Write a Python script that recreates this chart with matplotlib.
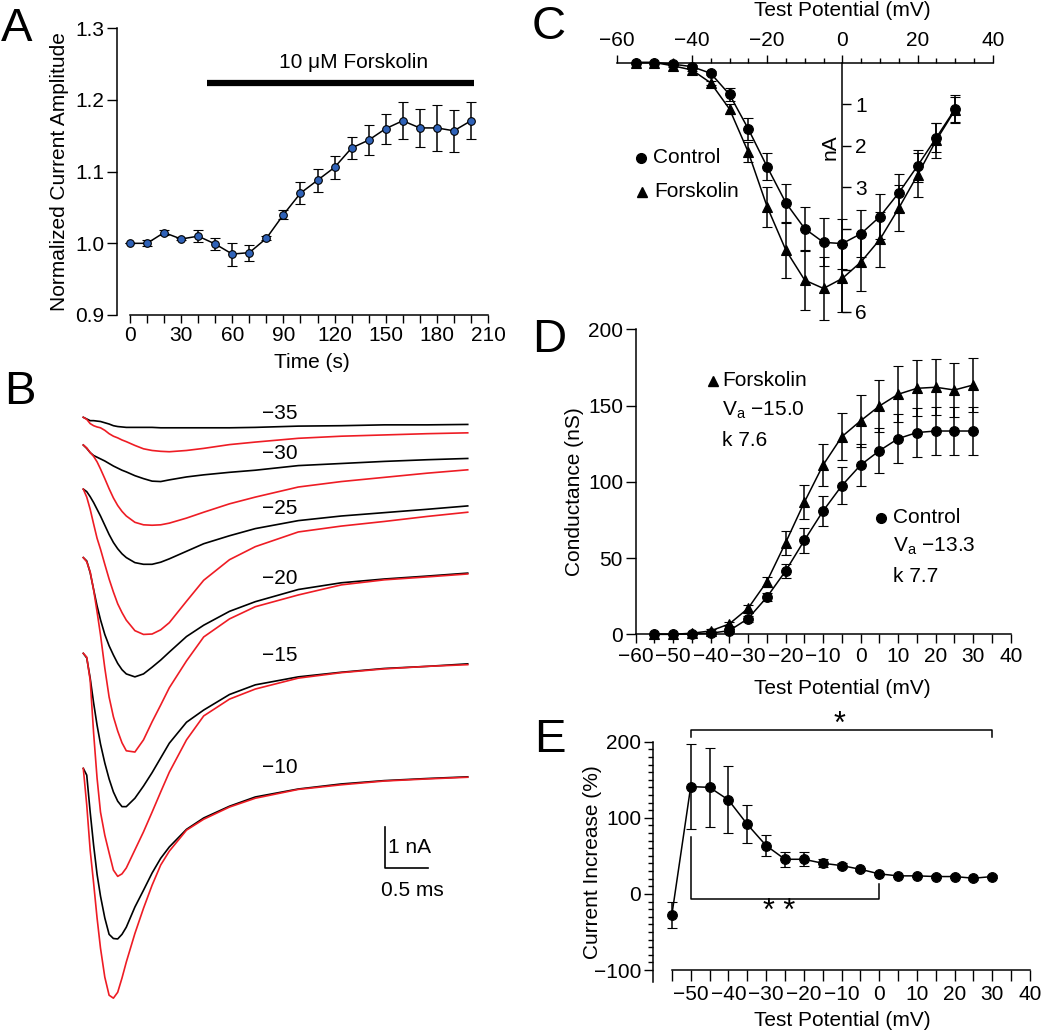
import matplotlib
matplotlib.use("Agg")
import matplotlib.pyplot as plt
from matplotlib.ticker import FixedLocator, MultipleLocator, FormatStrFormatter
from matplotlib.transforms import Affine2D

plt.rcParams['font.family'] = ['Liberation Sans', 'DejaVu Sans']
plt.rcParams['font.size'] = 15
plt.rcParams['axes.linewidth'] = 1.1
plt.rcParams['mathtext.default'] = 'regular'

# ---------------- data ----------------
# A: time course of normalized current amplitude
time_s = [0, 10, 20, 30, 40, 50, 60, 70, 80, 90, 100, 110, 120, 130, 140, 150, 160, 170, 180, 190, 200]
norm_amp = [1.000, 1.000, 1.015, 1.006, 1.010, 0.999, 0.985, 0.987, 1.007, 1.040, 1.070,
            1.088, 1.106, 1.133, 1.144, 1.160, 1.171, 1.161, 1.161, 1.157, 1.171]
norm_err = [0.000, 0.004, 0.004, 0.002, 0.008, 0.008, 0.016, 0.011, 0.003, 0.006, 0.015,
            0.016, 0.016, 0.016, 0.021, 0.021, 0.026, 0.026, 0.032, 0.029, 0.026]
fsk_start, fsk_end = 45, 202

# B: example current traces (nA, relative to holding) for each test step
trace_t = [0, 0.04, 0.08, 0.12, 0.16, 0.2, 0.25, 0.3, 0.35, 0.4, 0.45, 0.5, 0.6, 0.7,
           0.8, 0.9, 1.0, 1.2, 1.4, 1.7, 2.0, 2.5, 3.0, 3.5, 4.0, 4.47]
step_labels = ['\u221235', '\u221230', '\u221225', '\u221220', '\u221215', '\u221210']
ctrl_traces = [
    [0, -0.04, -0.08, -0.08, -0.09, -0.10, -0.13, -0.16, -0.20, -0.22, -0.23, -0.24, -0.24,
     -0.24, -0.24, -0.25, -0.25, -0.25, -0.25, -0.25, -0.24, -0.21, -0.20, -0.18, -0.18, -0.17],
    [0, -0.08, -0.18, -0.25, -0.29, -0.33, -0.38, -0.44, -0.50, -0.55, -0.60, -0.64, -0.73,
     -0.80, -0.86, -0.87, -0.83, -0.76, -0.71, -0.65, -0.60, -0.49, -0.44, -0.39, -0.35, -0.32],
    [0, -0.06, -0.18, -0.32, -0.48, -0.64, -0.86, -1.08, -1.27, -1.42, -1.54, -1.63, -1.75,
     -1.79, -1.79, -1.74, -1.66, -1.48, -1.30, -1.11, -0.94, -0.75, -0.64, -0.56, -0.48, -0.40],
    [0, -0.08, -0.36, -0.76, -1.15, -1.48, -1.83, -2.10, -2.32, -2.52, -2.67, -2.77, -2.84,
     -2.77, -2.61, -2.44, -2.25, -1.88, -1.61, -1.28, -1.05, -0.76, -0.60, -0.51, -0.44, -0.37],
    [0, -0.11, -0.59, -1.18, -1.71, -2.16, -2.61, -2.99, -3.30, -3.52, -3.65, -3.65, -3.45,
     -3.16, -2.84, -2.49, -2.14, -1.64, -1.35, -0.98, -0.75, -0.56, -0.45, -0.36, -0.31, -0.25],
    [0, -0.16, -1.04, -1.83, -2.52, -3.04, -3.56, -3.95, -4.05, -4.06, -3.95, -3.78, -3.30,
     -2.90, -2.49, -2.14, -1.87, -1.45, -1.18, -0.90, -0.68, -0.49, -0.37, -0.29, -0.24, -0.20],
]
fsk_traces = [
    [0, -0.05, -0.15, -0.20, -0.23, -0.25, -0.31, -0.39, -0.45, -0.49, -0.54, -0.58, -0.67,
     -0.75, -0.79, -0.81, -0.82, -0.79, -0.74, -0.65, -0.59, -0.50, -0.45, -0.42, -0.39, -0.37],
    [0, -0.07, -0.18, -0.27, -0.40, -0.57, -0.80, -1.04, -1.26, -1.44, -1.58, -1.69, -1.84,
     -1.90, -1.91, -1.90, -1.86, -1.74, -1.60, -1.40, -1.24, -1.00, -0.87, -0.77, -0.67, -0.59],
    [0, -0.19, -0.48, -0.83, -1.17, -1.43, -1.79, -2.14, -2.45, -2.73, -2.94, -3.12, -3.37,
     -3.46, -3.45, -3.35, -3.18, -2.67, -2.17, -1.68, -1.37, -1.02, -0.88, -0.77, -0.65, -0.55],
    [0, -0.10, -0.34, -0.77, -1.29, -1.84, -2.63, -3.32, -3.79, -4.13, -4.41, -4.60, -4.63,
     -4.34, -3.91, -3.51, -3.10, -2.46, -1.89, -1.46, -1.17, -0.89, -0.65, -0.53, -0.46, -0.39],
    [0, -0.09, -0.64, -1.90, -2.97, -3.78, -4.33, -4.75, -5.16, -5.31, -5.25, -5.11, -4.68,
     -4.25, -3.78, -3.30, -2.83, -2.06, -1.49, -1.09, -0.85, -0.59, -0.46, -0.37, -0.31, -0.27],
    [0, -0.87, -1.95, -2.73, -3.56, -4.28, -4.97, -5.40, -5.47, -5.33, -4.99, -4.61, -3.93,
     -3.33, -2.78, -2.30, -1.97, -1.47, -1.21, -0.92, -0.71, -0.50, -0.39, -0.30, -0.25, -0.21],
]

# C-E: test potentials
test_mv = [-55, -50, -45, -40, -35, -30, -25, -20, -15, -10, -5, 0, 5, 10, 15, 20, 25, 30]

# C: I-V (nA)
iv_ctrl = [0, 0, -0.04, -0.10, -0.26, -0.77, -1.60, -2.51, -3.38, -4.00, -4.33, -4.36,
           -4.12, -3.71, -3.14, -2.49, -1.81, -1.12]
iv_ctrl_err = [0, 0, 0.02, 0.03, 0.05, 0.15, 0.26, 0.33, 0.46, 0.53, 0.58, 0.60,
               0.56, 0.54, 0.45, 0.38, 0.35, 0.33]
iv_fsk = [0, 0, -0.08, -0.18, -0.49, -1.12, -2.16, -3.47, -4.52, -5.24, -5.44, -5.20,
          -4.80, -4.26, -3.51, -2.71, -1.87, -1.14]
iv_fsk_err = [0, 0, 0.02, 0.03, 0.05, 0.12, 0.24, 0.48, 0.66, 0.73, 0.75, 0.80,
              0.70, 0.66, 0.55, 0.52, 0.42, 0.30]

# D: conductance (nS)
g_ctrl = [0, 0, 0.2, 0.7, 2.4, 10.3, 24.3, 41.5, 61.6, 80.9, 97.5, 111.0,
          120.4, 128.3, 132.3, 133.3, 133.3, 133.3]
g_ctrl_err = [0, 0, 0, 0.5, 1, 2, 2.5, 4.4, 8, 10, 12.3, 13.9, 14.8, 16, 16, 16, 16, 16]
g_fsk = [0, 0, 0.7, 2.2, 6.8, 17.0, 34.5, 60.0, 86.6, 111.0, 129.6, 140.0,
         149.7, 157.4, 161.3, 162.0, 160.2, 163.5]
g_fsk_err = [0, 0, 0.3, 1, 1.5, 2.2, 3.3, 8, 11, 14, 15.3, 17, 17, 18.5, 18.3, 18.3, 17.5, 18]

# E: current increase (%)
incr = [-27.6, 141, 140, 123.5, 91.5, 63.5, 45.5, 45.5, 40.3, 37.2, 32.4, 26.3,
        23.7, 23.7, 22.8, 22.8, 20.6, 22.8]
incr_err = [17, 56, 52, 44, 25, 13.5, 10, 9, 5, 3, 2, 1.5, 1.5, 1.5, 1.5, 1.5, 2, 2]

# ---------------- figure ----------------
W, H = 1050, 1034
fig = plt.figure(figsize=(W / 100, H / 100), dpi=100)
pix = Affine2D().scale(1.0 / W, -1.0 / H).translate(0, 1) + fig.transFigure


def make_axes(xa, xb, ya, yb, xlim, ylim):
    # xa, xb, ya, yb: (data value, pixel) reference pairs
    sx = (xb[1] - xa[1]) / (xb[0] - xa[0])
    sy = (yb[1] - ya[1]) / (yb[0] - ya[0])
    left = xa[1] + (xlim[0] - xa[0]) * sx
    right = xa[1] + (xlim[1] - xa[0]) * sx
    top = ya[1] + (ylim[1] - ya[0]) * sy
    bottom = ya[1] + (ylim[0] - ya[0]) * sy
    ax = fig.add_axes([left / W, 1 - bottom / H, (right - left) / W, (bottom - top) / H])
    ax.set_xlim(xlim)
    ax.set_ylim(ylim)
    ax.patch.set_visible(False)
    return ax


def err_plot(ax, x, y, err, marker, ms, mfc='black', cap=3.5):
    c = ax.errorbar(x, y, yerr=err, fmt='-' + marker, color='black', lw=1.1, ms=ms,
                    mfc=mfc, mec='black', mew=0.8, ecolor='black', elinewidth=1.1,
                    capsize=cap, capthick=1.1, zorder=3)
    line, caps, bars = c.lines
    line.set_clip_on(False)
    for a in list(caps) + list(bars):
        a.set_clip_on(False)


def label_at(axis_obj, x, y):
    axis_obj.set_label_coords(x, y, transform=pix)
    axis_obj.label.set_va('center')
    axis_obj.label.set_ha('center')


for letter, lx, ly in [('A', 17, 29), ('B', 20, 392), ('C', 549, 27), ('D', 549, 340), ('E', 550, 740)]:
    fig.text(lx, ly, letter, transform=pix, fontsize=34, ha='center', va='center')

# ---- A ----
axA = make_axes((0, 130), (210, 488), (1.3, 28.3), (0.9, 315), (-7.6, 212), (0.9, 1.3))
axA.spines[['top', 'right']].set_visible(False)
axA.spines['bottom'].set_bounds(0, 210)
axA.set_yticks([0.9, 1.0, 1.1, 1.2, 1.3])
axA.yaxis.set_major_formatter(FormatStrFormatter('%.1f'))
axA.xaxis.set_major_locator(FixedLocator([0, 30, 60, 90, 120, 150, 180, 210]))
axA.xaxis.set_minor_locator(MultipleLocator(10))
axA.tick_params(axis='x', which='both', length=6, width=1.0, pad=2)
axA.tick_params(axis='y', length=7, width=1.0, pad=2)
axA.set_xlabel('Time (s)')
label_at(axA.xaxis, 312, 363)
axA.set_ylabel('Normalized Current Amplitude')
label_at(axA.yaxis, 60, 172)
err_plot(axA, time_s, norm_amp, norm_err, 'o', 5.5, mfc='#2f62b8', cap=3.3)
axA.plot([fsk_start, fsk_end], [1.224, 1.224], color='black', lw=4.5,
         solid_capstyle='butt', clip_on=False)
axA.text(131, 1.252, '10 \u03bcM Forskolin', ha='center', va='center')

# ---- B ----
axB = make_axes((0, 83.3), (1, 169.3), (0, 417.3), (-1, 459.3), (-0.1, 4.6), (-14.2, 0.45))
axB.axis('off')
trace_offsets = [0, -0.66, -1.71, -3.34, -5.62, -8.36]
label_y = [0.08, -0.87, -2.16, -3.83, -5.68, -8.33]
for k in range(len(step_labels)):
    off = trace_offsets[k]
    axB.plot(trace_t, [v + off for v in ctrl_traces[k]], color='black', lw=1.2,
             solid_joinstyle='round')
    axB.plot(trace_t, [v + off for v in fsk_traces[k]], color='#ee1c24', lw=1.2,
             solid_joinstyle='round')
    axB.text(2.28, label_y[k], step_labels[k], ha='center', va='center')
axB.plot([3.508, 3.508, 4.008], [-9.75, -10.74, -10.74], color='black', lw=1.2)
axB.text(3.545, -10.25, '1 nA', ha='left', va='center')
axB.text(3.83, -11.27, '0.5 ms', ha='center', va='center')

# ---- C ----
axC = make_axes((-60, 616.7), (40, 992.7), (0, 62.5), (-6, 311.7), (-60, 40), (-6, 0))
axC.spines[['left', 'bottom']].set_visible(False)
axC.spines['right'].set_position(('data', 0))
axC.spines['right'].set_bounds(-6, 0)
axC.xaxis.tick_top()
axC.xaxis.set_major_locator(MultipleLocator(20))
axC.xaxis.set_minor_locator(MultipleLocator(5))
axC.tick_params(axis='x', which='major', length=6, width=1.0, pad=3)
axC.tick_params(axis='x', which='minor', length=3.5, width=1.0)
axC.yaxis.tick_right()
axC.set_yticks([-1, -2, -3, -4, -5, -6], ['1', '2', '3', '', '', '6'])
axC.tick_params(axis='y', length=6.5, width=1.0, pad=3)
axC.set_xlabel('Test Potential (mV)')
axC.xaxis.set_label_position('top')
label_at(axC.xaxis, 842, 10)
axC.text(-3.3, -2.03, 'nA', rotation=90, ha='center', va='center')
err_plot(axC, test_mv, iv_ctrl, iv_ctrl_err, 'o', 7)
err_plot(axC, test_mv, iv_fsk, iv_fsk_err, '^', 7.5)
axC.plot([-53.6], [-2.29], 'o', color='black', ms=7)
axC.text(-50.4, -2.29, 'Control', ha='left', va='center')
axC.plot([-53.2], [-3.11], '^', color='black', ms=7.5)
axC.text(-50.0, -3.11, 'Forskolin', ha='left', va='center')

# ---- D ----
axD = make_axes((-60, 635.5), (40, 1010.7), (0, 634.3), (200, 329.3), (-60, 40), (0, 200))
axD.spines[['top', 'right']].set_visible(False)
axD.set_yticks([0, 50, 100, 150, 200])
axD.xaxis.set_major_locator(MultipleLocator(10))
axD.xaxis.set_minor_locator(MultipleLocator(5))
axD.tick_params(axis='x', which='both', length=6.5, width=1.0, pad=3)
axD.tick_params(axis='y', length=7, width=1.0, pad=2)
axD.set_xlabel('Test Potential (mV)')
label_at(axD.xaxis, 842, 688)
axD.set_ylabel('Conductance (nS)')
label_at(axD.yaxis, 575, 492)
err_plot(axD, test_mv, g_ctrl, g_ctrl_err, 'o', 7, cap=3.8)
err_plot(axD, test_mv, g_fsk, g_fsk_err, '^', 7.5, cap=3.8)
axD.plot([-39.4], [166.3], '^', color='black', ms=7.5, clip_on=False)
axD.text(-37.0, 166.3, 'Forskolin', ha='left', va='center')
axD.text(-37.0, 147.1, 'V$_a$ \u221215.0', ha='left', va='center')
axD.text(-37.0, 127.4, 'k 7.6', ha='left', va='center')
axD.plot([5.35], [76.3], 'o', color='black', ms=7)
axD.text(8.5, 76.3, 'Control', ha='left', va='center')
axD.text(8.5, 57.4, 'V$_a$ \u221213.3', ha='left', va='center')
axD.text(8.5, 37.8, 'k 7.7', ha='left', va='center')

# ---- E ----
axE = make_axes((-50, 690.7), (40, 1030), (200, 741.7), (-100, 970), (-60, 40), (-115.4, 200))
axE.spines[['top', 'right']].set_visible(False)
axE.spines['bottom'].set_position(('data', -100))
axE.spines['bottom'].set_bounds(-55, 40)
axE.yaxis.set_major_locator(FixedLocator([-100, 0, 100, 200]))
axE.yaxis.set_minor_locator(FixedLocator(list(range(-100, 201, 10))))
axE.xaxis.set_major_locator(FixedLocator([-50, -40, -30, -20, -10, 0, 10, 20, 30, 40]))
axE.xaxis.set_minor_locator(FixedLocator([-55, -45, -35, -25, -15, -5, 5, 15, 25, 35]))
axE.tick_params(axis='x', which='both', length=8, width=1.0, pad=3)
axE.tick_params(axis='y', which='major', length=6.5, width=1.0, pad=2)
axE.tick_params(axis='y', which='minor', length=3.5, width=1.0)
axE.set_xlabel('Test Potential (mV)')
label_at(axE.xaxis, 842, 1021)
axE.set_ylabel('Current Increase (%)')
label_at(axE.yaxis, 592, 862)
err_plot(axE, test_mv, incr, incr_err, 'o', 7, cap=3.8)
axE.plot([-50, -50, 30, 30], [206, 215.5, 215.5, 206], color='black', lw=1.1, clip_on=False)
axE.text(-10.4, 222, '*', ha='center', va='center', fontsize=22)
axE.plot([-50, -50, 0, 0], [75, -6.6, -6.6, 13], color='black', lw=1.1, clip_on=False)
axE.text(-26.6, -24, '* *', ha='center', va='center', fontsize=22)

fig.savefig('out.png', dpi=100)
